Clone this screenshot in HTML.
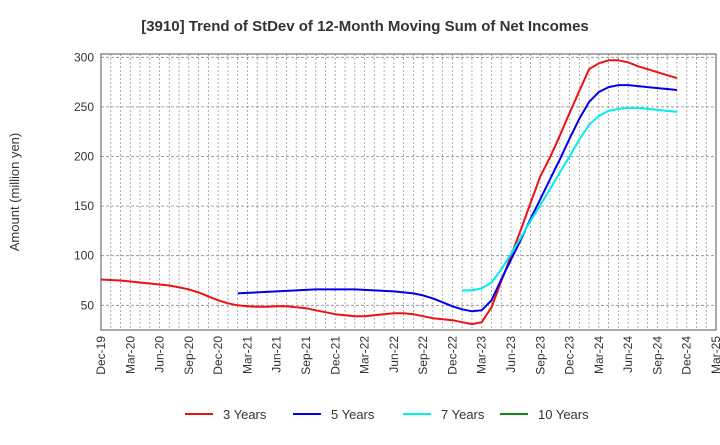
<!DOCTYPE html>
<html><head><meta charset="utf-8"><style>
body{margin:0;background:#fff;font-family:"Liberation Sans",sans-serif;}
</style></head><body>
<svg width="720" height="440" xmlns="http://www.w3.org/2000/svg" font-family="Liberation Sans, sans-serif">
<text x="365" y="31" text-anchor="middle" font-size="15" font-weight="bold" fill="#333">[3910]  Trend of StDev of 12-Month Moving Sum of Net Incomes</text>
<text transform="translate(19,192) rotate(-90)" text-anchor="middle" font-size="13" fill="#333">Amount (million yen)</text>
<g id="grid"></g>
<g id="series"></g>
<rect x="101" y="54" width="615" height="276" fill="none" stroke="#555" stroke-width="1"/>
<g id="yticks"></g>
<g id="xticks"></g>
<g id="legend"></g>
</svg>
<script>
const xLabels=["Dec-19","Mar-20","Jun-20","Sep-20","Dec-20","Mar-21","Jun-21","Sep-21","Dec-21","Mar-22","Jun-22","Sep-22","Dec-22","Mar-23","Jun-23","Sep-23","Dec-23","Mar-24","Jun-24","Sep-24","Dec-24","Mar-25"];
const yTicks=[50,100,150,200,250,300];
const seriesNames=["3 Years","5 Years","7 Years","10 Years"];
const seriesColors=["#ee1111","#0000ee","#00eeee","#118811"];
const start3=0;
const values3=[76,75.5,75,74,73,72,71,70,68,66,63,59,55,52,50,49,48.5,48.5,49,49,48,47,45,43,41,40,39,39,40,41,42,42,41,39,37,36,35,33,31,33,48,74,100,126,153,180,199,221,244,266,288,294,297,297,295,291,288,285,282,279];
const start5=14;
const values5=[62,62.5,63,63.5,64,64.5,65,65.5,66,66,66,66,66,65.5,65,64.5,64,63,62,60,57,53,49,46,44,45,55,76,96,116,137,157,177,197,218,238,255,265,270,272,272,271,270,269,268,267];
const start7=37;
const values7=[65,65,67,73,86,102,118,135,151,167,184,200,217,232,241,246,248,249,249,248,247,246,245];
const start10=0;
const values10=[];
const NS="http://www.w3.org/2000/svg";
const X0=101,X1=716,nMonths=63;
const xs=i=>X0+(X1-X0)*i/nMonths;
const ys=v=>57.3+(300-v)*49.6/50;
function mk(t,a,p){const e=document.createElementNS(NS,t);for(const k in a)e.setAttribute(k,a[k]);p.appendChild(e);return e;}
const grid=document.getElementById('grid');
for(let m=1;m<nMonths;m++){const l=mk('line',{x1:xs(m),x2:xs(m),y1:54,y2:330,stroke:'#999','stroke-width':0.8,'stroke-dasharray':'2,2'},grid);

}
const yt=document.getElementById('yticks');
yTicks.forEach(v=>{const l=mk('line',{x1:101,x2:716,y1:ys(v),y2:ys(v),stroke:'#888','stroke-width':0.8,'stroke-dasharray':'3,2'},grid);


const t=mk('text',{x:94,y:ys(v)+4,'text-anchor':'end','font-size':12,fill:'#333'},yt);t.textContent=v;

});
const xt=document.getElementById('xticks');
xLabels.forEach((s,i)=>{const x=xs(i*3);const t=mk('text',{transform:`translate(${x+4},336) rotate(-90)`,'text-anchor':'end','font-size':12,fill:'#333'},xt);t.textContent=s;

});
const sg=document.getElementById('series');
[[start3,values3],[start5,values5],[start7,values7],[start10,values10]].forEach(([s,vals],k)=>{if(!vals.length)return;
const d=vals.map((v,i)=>(i?'L':'M')+xs(s+i).toFixed(1)+','+ys(v).toFixed(1)).join(' ');
const p=mk('path',{d:d,fill:'none',stroke:seriesColors[k],'stroke-width':2,'stroke-linejoin':'round'},sg);

});
const lg=document.getElementById('legend');
const lx=[185,293,403,500];
seriesNames.forEach((n,k)=>{const g=mk('g',{},lg);


mk('line',{x1:lx[k],x2:lx[k]+28,y1:414,y2:414,stroke:seriesColors[k],'stroke-width':2},g);
const t=mk('text',{x:lx[k]+38,y:419,'font-size':13,fill:'#333'},g);t.textContent=n;});
</script>
</body></html>
